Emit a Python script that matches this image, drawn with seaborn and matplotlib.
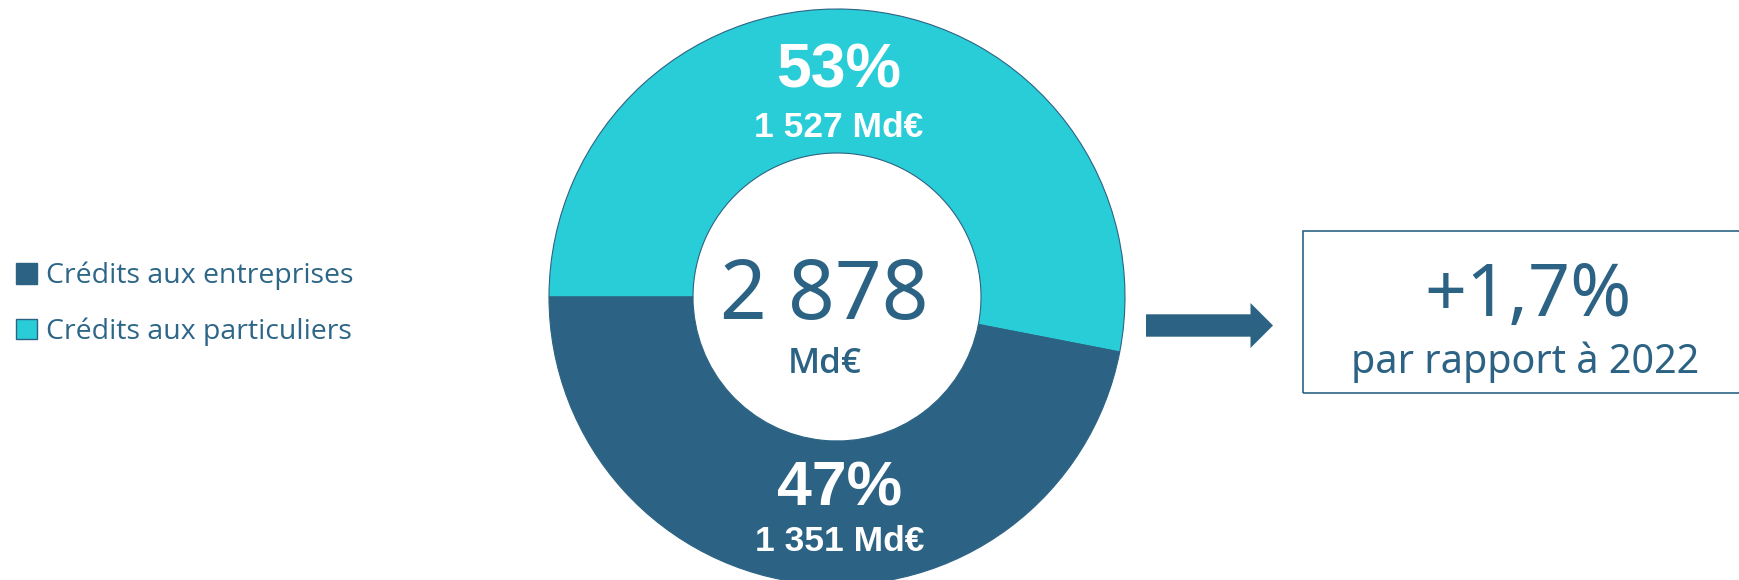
import matplotlib.pyplot as plt
import matplotlib.patches as mpatches
import seaborn as sns

# données (Md€)
segments = ["Crédits aux particuliers", "Crédits aux entreprises"]
amounts = [1527, 1351]
total = 2878
growth = "+1,7%"
growth_label = "par rapport à 2022"

TEAL = "#29CDD8"
DARK = "#2C6384"
TXT = "#2E6688"


def fmt(n):
    return f"{n:,}".replace(",", " ")


sns.set_theme(style="white")
plt.rcParams['font.family'] = ['Open Sans', 'DejaVu Sans']
palette = sns.color_palette([TEAL, DARK])

fig = plt.figure(figsize=(17.4, 5.8), dpi=100)
ax = fig.add_axes([0, 0, 1, 1])

# anneau : particuliers en haut, entreprises en bas
wedges, _ = ax.pie(amounts, colors=palette, startangle=180, counterclock=False,
                   radius=288, center=(837, 283), frame=True,
                   wedgeprops=dict(width=144, edgecolor=DARK, linewidth=0.8))

ax.set_xlim(0, 1740)
ax.set_ylim(0, 580)
ax.set_aspect('equal')
ax.axis('off')

# étiquettes des segments
bold = ['Liberation Sans', 'DejaVu Sans']
noto = ['Noto Sans', 'DejaVu Sans']
pcts = [round(a / total * 100) for a in amounts]
ax.text(839, 580 - 88, f"{pcts[0]}%", ha='center', va='baseline', color='white',
        fontsize=45, fontweight='bold', family=bold)
ax.text(839, 580 - 137, f"{fmt(amounts[0])} Md€", ha='center', va='baseline',
        color='white', fontsize=25.5, fontweight='bold', family=bold)
ax.text(840, 580 - 505, f"{pcts[1]}%", ha='center', va='baseline', color='white',
        fontsize=45, fontweight='bold', family=bold)
ax.text(840, 580 - 551, f"{fmt(amounts[1])} Md€", ha='center', va='baseline',
        color='white', fontsize=25.5, fontweight='bold', family=bold)

# total au centre
ax.text(824, 580 - 319, fmt(total), ha='center', va='baseline', color=DARK,
        fontsize=59, family=noto)
ax.text(825, 580 - 373, "Md€", ha='center', va='baseline', color=DARK,
        fontsize=25, fontweight='semibold')

# légende
handles = [mpatches.Patch(facecolor=DARK, edgecolor=DARK, linewidth=1, label=segments[1]),
           mpatches.Patch(facecolor=TEAL, edgecolor=DARK, linewidth=1, label=segments[0])]
ax.legend(handles=handles, loc='center left', bbox_to_anchor=(16, 580 - 304),
          bbox_transform=ax.transData, frameon=False, fontsize=20.5,
          handlelength=0.74, handleheight=0.74, handletextpad=0.32,
          labelspacing=0.95, borderpad=0, borderaxespad=0, labelcolor=TXT)

# flèche + encadré évolution
ax.add_patch(mpatches.FancyArrow(1146, 580 - 325.5, 127, 0, width=22.4,
                                 head_width=45, head_length=22.5,
                                 length_includes_head=True, color=DARK, lw=0))
ax.add_patch(mpatches.Rectangle((1302.7, 580 - 392.7), 500, 162, fill=False,
                                edgecolor=DARK, linewidth=1.2, clip_on=True))
ax.text(1528, 580 - 316, growth, ha='center', va='baseline', color=DARK,
        fontsize=53, family=noto)
ax.text(1525, 580 - 372.7, growth_label, ha='center', va='baseline', color=DARK,
        fontsize=28.5, family=noto)

fig.savefig('out.png', dpi=100)
plt.close(fig)
